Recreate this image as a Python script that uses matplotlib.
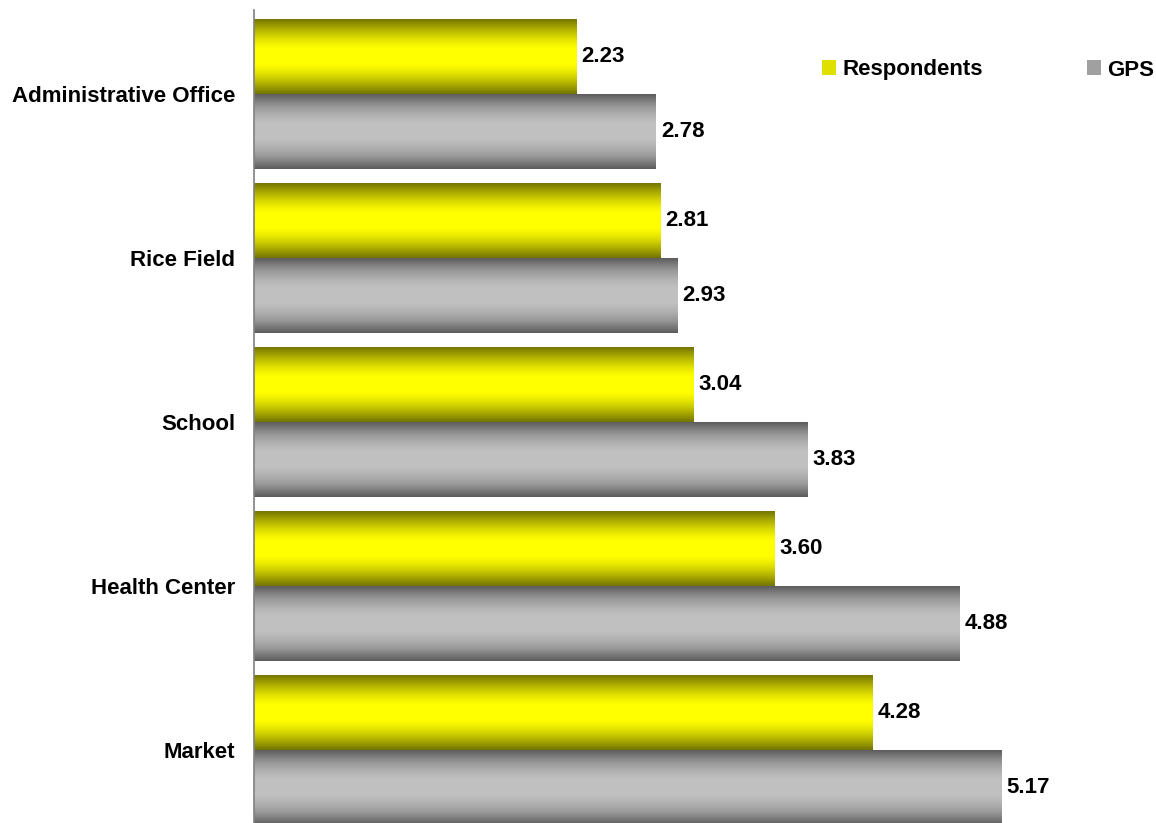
import numpy as np
import matplotlib
matplotlib.use("Agg")
import matplotlib.pyplot as plt
from matplotlib.patches import Rectangle, Patch
from matplotlib.colors import LinearSegmentedColormap

categories = ["Administrative Office", "Rice Field", "School", "Health Center", "Market"]
respondents = [2.23, 2.81, 3.04, 3.60, 4.28]
gps = [2.78, 2.93, 3.83, 4.88, 5.17]
series_names = ["Respondents", "GPS"]

plt.rcParams['font.family'] = ['Liberation Sans', 'DejaVu Sans']
FS = 16

fig = plt.figure(figsize=(11.56, 8.23), dpi=100)
ax = fig.add_axes([254/1156, 0.0, (1121-254)/1156, 1 - 10/823])

bar_h = 0.455
y = np.arange(len(categories))

yellow_cmap = LinearSegmentedColormap.from_list("y", ["#747400", "#b8b800", "#ffff00"])
gray_cmap = LinearSegmentedColormap.from_list("g", ["#5c5c5c", "#959595", "#c0c0c0"])

t = np.linspace(0, 1, 300)
profile = np.clip(np.sin(np.pi * t) * 1.05, 0, 1)
grad = np.repeat(profile.reshape(-1, 1), 4, axis=1)

def gradient_bar(ax, yc, w, cmap):
    top = yc - bar_h / 2
    bot = yc + bar_h / 2
    im = ax.imshow(grad, cmap=cmap, aspect='auto', extent=[0, w, bot, top],
                   vmin=0, vmax=1, interpolation='nearest', zorder=2)
    rect = Rectangle((0, top), w, bar_h, transform=ax.transData, facecolor='none', edgecolor='none')
    ax.add_patch(rect)
    im.set_clip_path(rect)

for i in range(len(categories)):
    yr = y[i] - bar_h / 2
    yg = y[i] + bar_h / 2
    gradient_bar(ax, yr, respondents[i], yellow_cmap)
    gradient_bar(ax, yg, gps[i], gray_cmap)
    ax.text(respondents[i] + 0.035, yr, f"{respondents[i]:.2f}", va='center', ha='left',
            fontsize=FS, fontweight='bold', color='black')
    ax.text(gps[i] + 0.035, yg, f"{gps[i]:.2f}", va='center', ha='left',
            fontsize=FS, fontweight='bold', color='black')

ax.set_xlim(0, 6)
ax.set_ylim(4.445, -0.512)
ax.set_yticks(y)
ax.set_yticklabels(categories, fontsize=FS, fontweight='bold')
ax.tick_params(axis='y', length=0, pad=13.7)
ax.set_xticks([])
for s in ['top', 'right', 'bottom']:
    ax.spines[s].set_visible(False)
ax.spines['left'].set_color('#808080')
ax.spines['left'].set_linewidth(1.2)
ax.spines['left'].set_zorder(5)

handles = [Patch(facecolor='#e0e000', edgecolor='none'), Patch(facecolor='#a0a0a0', edgecolor='none')]
fig.legend(handles, series_names, loc='center left', bbox_to_anchor=(822/1156, 1 - 70/823),
           ncol=2, frameon=False, handlelength=0.63, handleheight=0.63, handletextpad=0.3,
           columnspacing=4.65, borderpad=0, borderaxespad=0,
           prop={'size': FS, 'weight': 'bold'})

fig.savefig("out.png", dpi=100)
